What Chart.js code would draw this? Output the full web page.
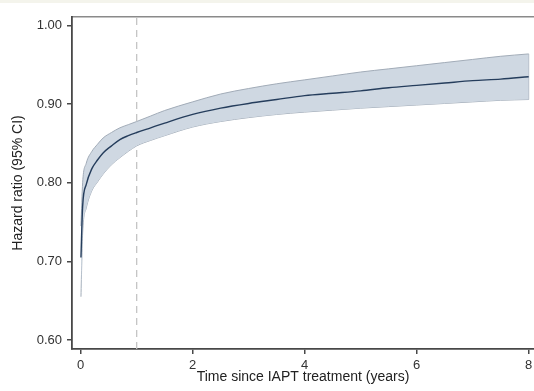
<!DOCTYPE html>
<html>
<head>
<meta charset="utf-8">
<script src="https://cdn.jsdelivr.net/npm/chart.js@4.4.0/dist/chart.umd.min.js"></script>
<style>
  html, body { margin: 0; padding: 0; background: #fff; }
  canvas { display: block; }
</style>
</head>
<body>
<canvas id="c" width="534" height="391"></canvas>
<script>
// values
const years = [0.005, 0.035, 0.1, 0.2, 0.3, 0.4, 0.55, 0.7, 0.85, 1.0, 1.25, 1.5, 2.0, 2.5, 3.0, 3.5, 4.0, 4.5, 5.0, 5.5, 6.0, 6.5, 7.0, 7.5, 8.0];
const hazard = [0.705, 0.770, 0.798, 0.818, 0.829, 0.838, 0.847, 0.855, 0.860, 0.864, 0.870, 0.876, 0.887, 0.895, 0.901, 0.906, 0.911, 0.914, 0.917, 0.921, 0.924, 0.927, 0.930, 0.932, 0.935];
const ciLow  = [0.655, 0.736, 0.768, 0.790, 0.801, 0.811, 0.823, 0.832, 0.840, 0.847, 0.854, 0.860, 0.871, 0.878, 0.883, 0.887, 0.890, 0.8925, 0.895, 0.897, 0.899, 0.901, 0.903, 0.905, 0.906];
const ciHigh = [0.745, 0.800, 0.825, 0.840, 0.849, 0.857, 0.864, 0.870, 0.874, 0.878, 0.885, 0.892, 0.903, 0.913, 0.920, 0.926, 0.931, 0.936, 0.941, 0.945, 0.949, 0.953, 0.957, 0.961, 0.964];
const xTicks = [0, 2, 4, 6, 8];
const yTicks = [0.6, 0.7, 0.8, 0.9, 1.0];
const refYear = 1;

const X_MIN = -0.155, X_MAX = 8.095;
const Y_MIN = 0.5885, Y_MAX = 1.011;

const pts = (ys) => years.map((x, i) => ({ x, y: ys[i] }));
const last = years.length - 1;

const FONT = '"Liberation Sans", Arial, sans-serif';
const bandFill = 'rgb(207, 216, 226)';
const bandEdge = '#a2acb8';
const axisCol = '#484848';

const bg = {
  id: 'bg',
  beforeDraw(chart) {
    const ctx = chart.ctx;
    ctx.save();
    ctx.fillStyle = '#fff';
    ctx.fillRect(0, 0, chart.width, chart.height);
    ctx.fillStyle = '#f4f4ec';
    ctx.fillRect(0, 0, chart.width, 3);
    ctx.restore();
  },
};

// drop the label overhang padding so the plot runs to the right edge
function noPad(s) {
  s.paddingLeft = 0; s.paddingRight = 0; s.paddingTop = 0; s.paddingBottom = 0;
}

new Chart(document.getElementById('c'), {
  type: 'line',
  data: {
    datasets: [
      { label: 'ref', data: [{ x: refYear, y: Y_MIN }, { x: refYear, y: Y_MAX }], borderColor: '#c4c4c4', borderWidth: 1.3, borderDash: [7, 5], pointRadius: 0, fill: false, order: 5 },
      { label: 'lo', data: pts(ciLow), borderColor: bandEdge, borderWidth: 1, pointRadius: 0, fill: false, cubicInterpolationMode: 'monotone', order: 3 },
      { label: 'hi', data: pts(ciHigh), borderColor: bandEdge, borderWidth: 1, pointRadius: 0, backgroundColor: bandFill, fill: '-1', cubicInterpolationMode: 'monotone', order: 2 },
      { label: 'end', data: [{ x: years[last], y: ciLow[last] }, { x: years[last], y: ciHigh[last] }], borderColor: bandEdge, borderWidth: 1, pointRadius: 0, fill: false, order: 2 },
      { label: 'hr', data: pts(hazard), borderColor: '#253d5c', borderWidth: 1.4, pointRadius: 0, fill: false, cubicInterpolationMode: 'monotone', order: 1 },
    ],
  },
  options: {
    responsive: false,
    animation: false,
    layout: { padding: 0 },
    plugins: { legend: { display: false }, tooltip: { enabled: false } },
    scales: {
      x: {
        type: 'linear', position: 'bottom', min: X_MIN, max: X_MAX,
        afterBuildTicks: (s) => { s.ticks = xTicks.map((v) => ({ value: v })); },
        afterFit: (s) => { s.height = 42; noPad(s); },
        grid: { drawOnChartArea: false, drawTicks: true, tickLength: 5, color: axisCol, lineWidth: 1.5 },
        border: { display: true, color: axisCol, width: 1.8 },
        ticks: { color: '#333', font: { family: FONT, size: 13 }, padding: 4, maxRotation: 0, callback: (v) => String(v) },
        title: { display: true, text: 'Time since IAPT treatment (years)', color: '#222', font: { family: FONT, size: 14 }, padding: { top: 0, bottom: 5 } },
      },
      x2: {
        type: 'linear', position: 'top', min: X_MIN, max: X_MAX,
        afterFit: (s) => { s.height = 17; noPad(s); },
        grid: { display: false },
        border: { display: true, color: '#8a8a8a', width: 1.5 },
        ticks: { display: false },
      },
      y: {
        type: 'linear', position: 'left', min: Y_MIN, max: Y_MAX,
        afterBuildTicks: (s) => { s.ticks = yTicks.map((v) => ({ value: v })); },
        afterFit: (s) => { s.width = 72; noPad(s); },
        grid: { drawOnChartArea: false, drawTicks: true, tickLength: 5, color: axisCol, lineWidth: 1.5 },
        border: { display: true, color: axisCol, width: 1.8 },
        ticks: { color: '#333', font: { family: FONT, size: 13 }, padding: 5, callback: (v) => v.toFixed(2) },
        title: { display: true, text: 'Hazard ratio (95% CI)', color: '#222', font: { family: FONT, size: 14 }, padding: { top: 10, bottom: 0 } },
      },
    },
  },
  plugins: [bg],
});
</script>
</body>
</html>
